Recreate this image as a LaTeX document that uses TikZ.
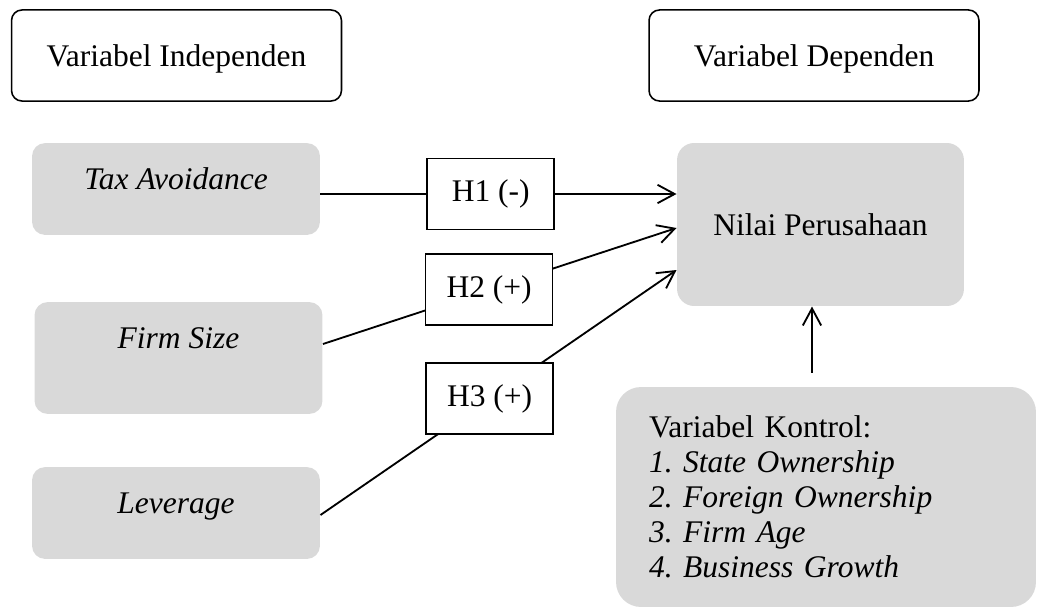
\documentclass[tikz,border=0pt,12pt]{standalone}
\usepackage{fontspec}
\setmainfont{Liberation Serif}
\usepackage{tikz}
\usetikzlibrary{positioning}
\usetikzlibrary{calc}
\usetikzlibrary{arrows.meta}

\definecolor{boxgray}{HTML}{D9D9D9}

\newcommand{\itemno}[1]{\makebox[13pt][l]{#1}}

\tikzset{
    headbox/.style={draw, rounded corners=4pt, line width=0.6pt, minimum width=125.7pt, minimum height=34.7pt, text depth=0pt},
    varbox/.style={fill=boxgray, rounded corners=5pt, minimum width=109.7pt, inner ysep=0pt, text height=17.5pt, text depth=17.5pt, font=\itshape},
    hypbox/.style={draw, fill=white, line width=0.6pt, minimum width=48.4pt, minimum height=27pt},
    link/.style={->, line width=0.7pt}
}

\begin{document}
\begin{tikzpicture}[x=0.381pt, y=-0.381pt, >={Straight Barb[length=6.5pt,width=7pt]}]
    \useasboundingbox (0,0) rectangle (1037,609);

    % the column headers
    \node[headbox] (indep) at (176.5,55.5) {Variabel Independen};
    \node[headbox] (dep) at (814,55.5) {Variabel Dependen};

    % the variables
    \node[varbox] (tax) at (176,189) {Tax Avoidance};
    \node[varbox, text depth=25.1pt] (firm) at (178.5,358) {Firm Size};
    \node[varbox] (lev) at (176,513) {Leverage};

    \node[fill=boxgray, rounded corners=6.5pt, minimum width=109.3pt, minimum height=62.1pt] (nilai) at (820.5,224.5) {Nilai Perusahaan};

    \node[fill=boxgray, rounded corners=9.5pt, minimum width=160pt, minimum height=83.8pt, inner xsep=12.6pt, text width=134.8pt, align=left, font=\fontsize{12}{13.3}\selectfont] (kontrol) at (826,497) {Variabel Kontrol:\\
        \textit{\itemno{1.}State Ownership}\\
        \textit{\itemno{2.}Foreign Ownership}\\
        \textit{\itemno{3.}Firm Age}\\
        \textit{\itemno{4.}Business Growth}};

    % the arrows and hypotheses
    \draw[link] ($(tax.east)+(0,5)$) -- node[hypbox, pos=0.478] (h1) {H1 (-)} ($(nilai.west)+(0,-30.5)$);
    \draw[link] ($(firm.east)+(0,-14)$) -- node[hypbox, pos=0.47] (h2) {H2 (+)} ($(nilai.west)+(0,3.5)$);
    \draw[link] ($(lev.east)+(0,2)$) -- node[hypbox, pos=0.475] (h3) {H3 (+)} ($(nilai.west)+(0,45.5)$);

    \draw[link] ($(kontrol.north)+(-14,-14)$) -- ($(nilai.south)+(-8.5,0)$);
\end{tikzpicture}
\end{document}
